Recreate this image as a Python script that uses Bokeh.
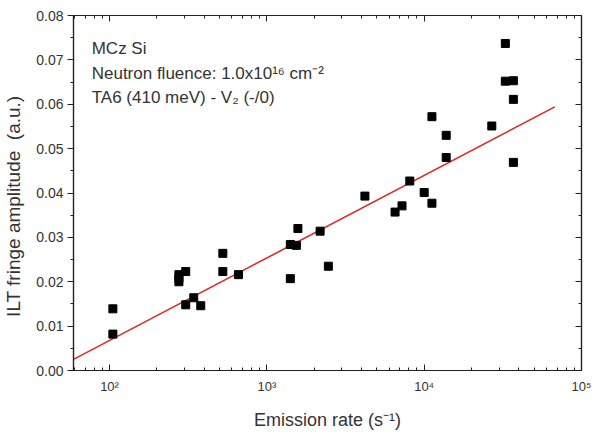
from bokeh.plotting import figure
from bokeh.models import Range1d, FixedTicker, LinearAxis, LogAxis, Label, ColumnDataSource
from bokeh.embed import file_html
from bokeh.resources import INLINE

# Data
rate = [105, 105, 276, 276, 276, 305, 305, 343, 380, 525, 525, 660,
        1410, 1410, 1540, 1575, 2180, 2460, 4200, 6530, 7230, 8100, 10000, 11200,
        11200, 13800, 13800, 26900, 32800, 32800, 36900, 36900, 36900]
amp = [0.0082, 0.0139, 0.0200, 0.0208, 0.0216, 0.0223, 0.0148, 0.0164, 0.0146, 0.0264, 0.0223, 0.0216,
       0.0207, 0.0284, 0.0282, 0.0320, 0.0314, 0.0235, 0.0393, 0.0357, 0.0371, 0.0427, 0.0401, 0.0377,
       0.0572, 0.0530, 0.0480, 0.0551, 0.0737, 0.0652, 0.0653, 0.0611, 0.0469]
fit_x = [59, 67600]
fit_y = [0.0025, 0.0594]

x_major = [1e2, 1e3, 1e4, 1e5]
x_major_labels = ["10²", "10³", "10⁴", "10⁵"]
y_major = [0.00, 0.01, 0.02, 0.03, 0.04, 0.05, 0.06, 0.07, 0.08]
y_major_labels = ["0.00", "0.01", "0.02", "0.03", "0.04", "0.05", "0.06", "0.07", "0.08"]

FONT = "Liberation Sans"
TXT = "#333333"

p = figure(width=592, height=432, x_axis_type="log", output_backend="svg", toolbar_location=None,
           x_range=Range1d(59, 1e5), y_range=Range1d(0.0, 0.08),
           min_border_left=72, min_border_right=11, min_border_top=15, min_border_bottom=60)
p.grid.visible = False
p.outline_line_color = "#222222"
p.outline_line_width = 1.2
p.background_fill_color = "white"
p.border_fill_color = "white"

x_minor = [m * d for d in [10, 100, 1000, 10000] for m in range(2, 10)]
y_minor = [0.005 + 0.01 * i for i in range(8)]
xt = FixedTicker(ticks=x_major, minor_ticks=x_minor)
yt = FixedTicker(ticks=y_major, minor_ticks=y_minor)

xa = p.xaxis[0]
xa.ticker = xt
xa.major_label_overrides = {v: s for v, s in zip(x_major, x_major_labels)}
xa.axis_label = "Emission rate (s⁻¹)"
ya = p.yaxis[0]
ya.ticker = yt
ya.major_label_overrides = {v: s for v, s in zip(y_major, y_major_labels)}
ya.axis_label = "ILT fringe amplitude\u00a0 (a.u.)\u00a0\u00a0\u00a0\u00a0\u00a0"

for ax in (xa, ya):
    ax.axis_line_color = "#222222"
    ax.axis_line_width = 1.2
    ax.major_tick_line_color = "#222222"
    ax.minor_tick_line_color = "#222222"
    ax.major_label_text_font = FONT
    ax.major_label_text_color = TXT
    ax.axis_label_text_font = FONT
    ax.axis_label_text_font_style = "normal"
    ax.axis_label_text_color = TXT

xa.axis_label_text_font_size = "18px"
ya.axis_label_text_font_size = "19px"
xa.major_label_text_font_size = "13px"
ya.major_label_text_font_size = "14px"
xa.major_tick_in = 6
xa.major_tick_out = 0
xa.minor_tick_in = 3
xa.minor_tick_out = 0
xa.major_label_standoff = 8
xa.axis_label_standoff = 13
ya.major_tick_in = 0
ya.major_tick_out = 6
ya.minor_tick_in = 0
ya.minor_tick_out = 3
ya.major_label_standoff = 4
ya.axis_label_standoff = 9

top = LogAxis(ticker=FixedTicker(ticks=x_major, minor_ticks=x_minor))
right = LinearAxis(ticker=FixedTicker(ticks=y_major, minor_ticks=y_minor))
for ax in (top, right):
    ax.major_label_text_font_size = "6px"
    ax.major_label_text_color = None
    ax.major_label_standoff = 0
    ax.major_tick_in = 6
    ax.major_tick_out = 0
    ax.minor_tick_in = 3
    ax.minor_tick_out = 0
    ax.axis_line_color = "#222222"
    ax.axis_line_width = 1.2
    ax.major_tick_line_color = "#222222"
    ax.minor_tick_line_color = "#222222"
p.add_layout(top, "above")
p.add_layout(right, "right")

src = ColumnDataSource(dict(x=rate, y=amp))
p.line(fit_x, fit_y, line_color="#dd2a2a", line_width=1.6)
p.scatter("x", "y", source=src, marker="square", size=8, fill_color="black", line_color="black")

ann = [("MCz Si", 0.0726), ("Neutron fluence: 1.0x10¹⁶ cm⁻²", 0.0670), ("TA6 (410 meV) - V₂ (-/0)", 0.0615)]
for t, yv in ann:
    p.add_layout(Label(x=77, y=yv, text=t, text_font=FONT, text_font_size="17px",
                       text_color=TXT, text_baseline="middle", text_align="left"))

open("out.html", "w").write(file_html(p, INLINE))
